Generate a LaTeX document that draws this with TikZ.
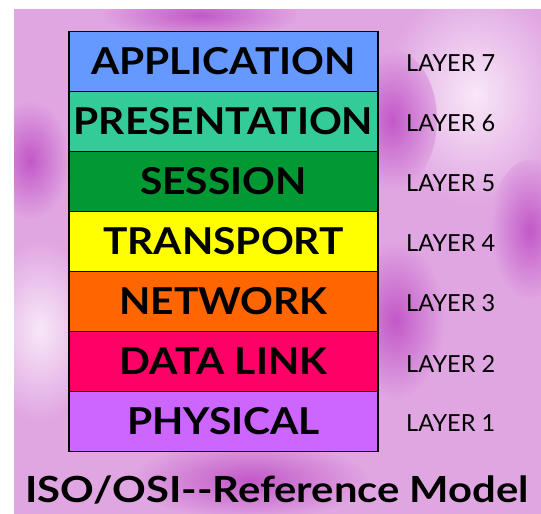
\documentclass[tikz,border=0pt]{standalone}
\usepackage{fontspec}
\setmainfont{Lato}
\newfontfamily\widefont[FakeStretch=1.1]{Lato}
\newfontfamily\titlefont[FakeStretch=1.16]{Lato}
\usepackage{tikz}
\usetikzlibrary{positioning}
\definecolor{bgpink}{RGB}{224,166,226}
\definecolor{bgdark}{RGB}{194,88,200}
\definecolor{bglight}{RGB}{248,232,248}
\definecolor{appblue}{RGB}{102,153,255}
\definecolor{presgreen}{RGB}{51,204,153}
\definecolor{sessgreen}{RGB}{0,153,51}
\definecolor{transyellow}{RGB}{255,255,0}
\definecolor{netorange}{RGB}{255,102,0}
\definecolor{linkred}{RGB}{255,0,102}
\definecolor{physviolet}{RGB}{204,102,255}
\tikzset{layerbox/.style={draw, line width=1.2pt, minimum width=309pt,
    minimum height=60pt, inner sep=0pt, outer sep=0pt,
    font=\widefont\fontsize{37}{37}\selectfont\bfseries},
    layerno/.style={inner sep=0pt, yshift=-2pt,
    font=\fontsize{23.5}{23.5}\selectfont},
    blob/.style={outer color=bgpink}}

\begin{document}
\begin{tikzpicture}[x=1pt,y=-1pt]
    \useasboundingbox (0,0) rectangle (541,514);
    \begin{scope}
        \clip (14,9) rectangle (541,514);
        \fill[bgpink] (14,9) rectangle (541,514);
        \shade[blob, inner color=bglight] (475,95) ellipse [x radius=90, y radius=110];
        \shade[blob, inner color=bglight] (40,330) ellipse [x radius=60, y radius=90];
        \shade[blob, inner color=bgdark] (392,120) ellipse [x radius=45, y radius=70];
        \shade[blob, inner color=bgdark] (395,320) ellipse [x radius=50, y radius=80];
        \shade[blob, inner color=bgdark] (530,230) ellipse [x radius=40, y radius=70];
        \shade[blob, inner color=bgdark] (30,160) ellipse [x radius=40, y radius=60];
        \shade[blob, inner color=bgdark] (250,480) ellipse [x radius=120, y radius=40];
        \shade[blob, inner color=bgdark] (200,15) ellipse [x radius=100, y radius=25];
    \end{scope}
    \node[layerbox, fill=appblue] (app) at (223.5,61.5) {APPLICATION};
    \node[layerbox, fill=presgreen, below=0pt of app] (pres) {PRESENTATION};
    \node[layerbox, fill=sessgreen, below=0pt of pres] (sess) {SESSION};
    \node[layerbox, fill=transyellow, below=0pt of sess] (trans) {TRANSPORT};
    \node[layerbox, fill=netorange, below=0pt of trans] (net) {NETWORK};
    \node[layerbox, fill=linkred, below=0pt of net] (link) {DATA LINK};
    \node[layerbox, fill=physviolet, below=0pt of link] (phys) {PHYSICAL};
    \node[layerno, right=28pt of app] (l7) {LAYER 7};
    \node[layerno, right=28pt of pres] (l6) {LAYER 6};
    \node[layerno, right=28pt of sess] (l5) {LAYER 5};
    \node[layerno, right=28pt of trans] (l4) {LAYER 4};
    \node[layerno, right=28pt of net] (l3) {LAYER 3};
    \node[layerno, right=28pt of link] (l2) {LAYER 2};
    \node[layerno, right=28pt of phys] (l1) {LAYER 1};
    \node[inner sep=0pt, font=\titlefont\fontsize{36}{36}\selectfont\bfseries] (title)
        at (277,490) {ISO/OSI-{}-Reference Model};
\end{tikzpicture}
\end{document}
